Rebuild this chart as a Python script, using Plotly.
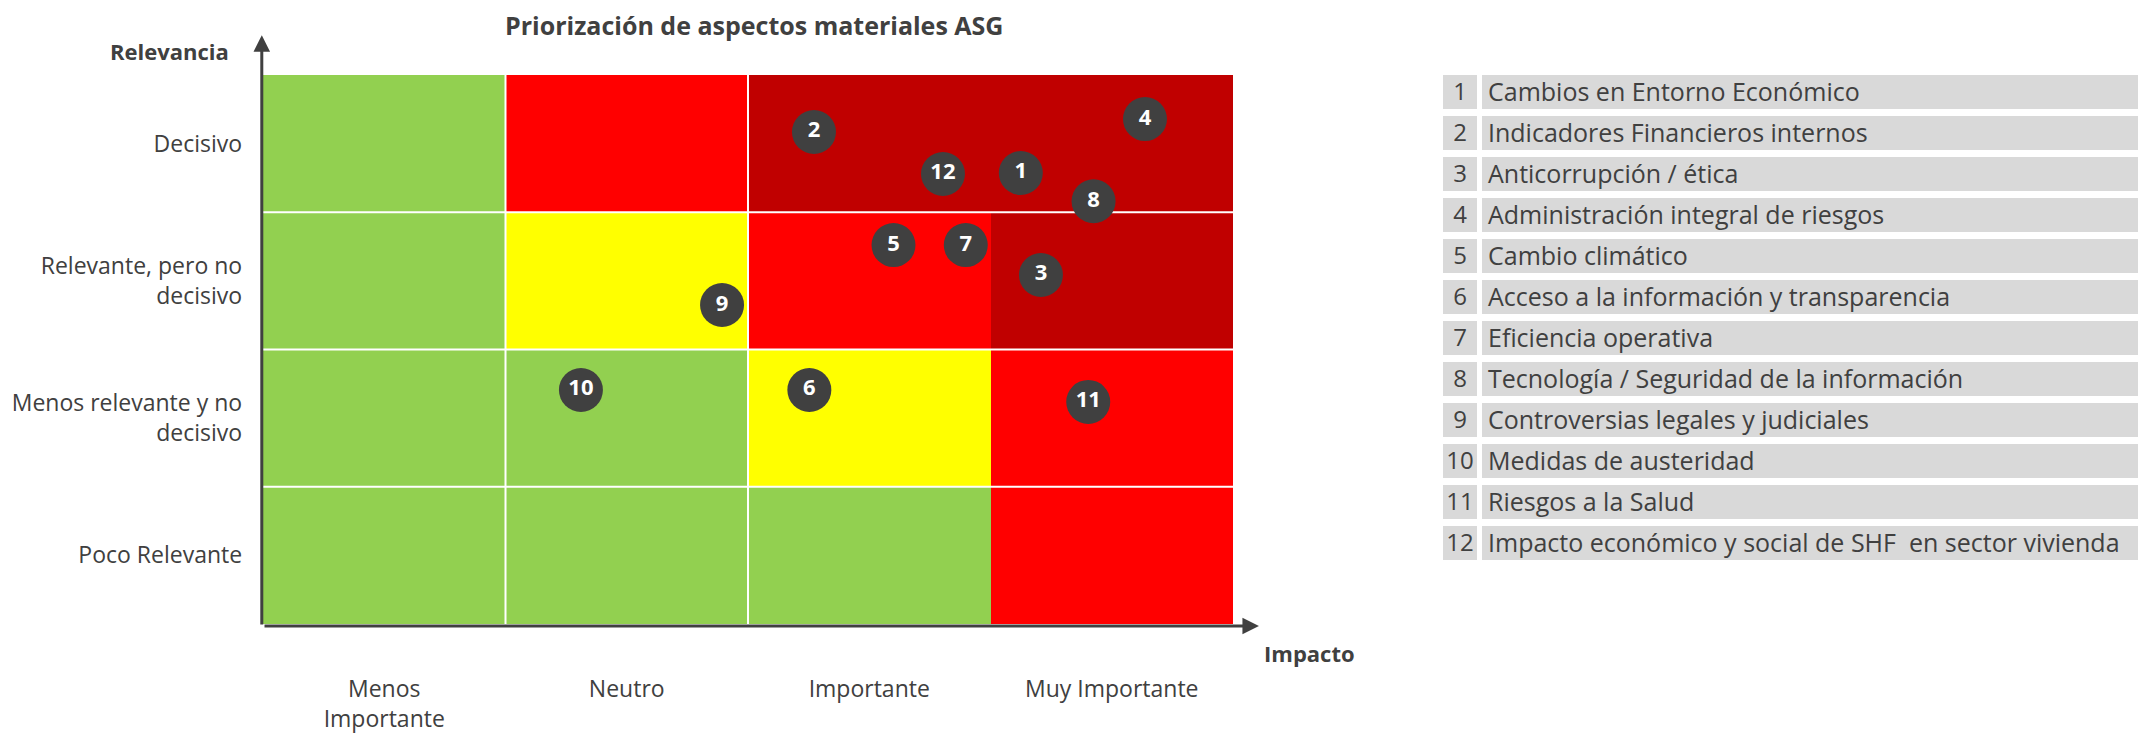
import plotly.graph_objects as go

# ---------------- data ----------------
impact_labels = ["Menos<br>Importante", "Neutro", "Importante", "Muy Importante"]
relevance_labels = ["Poco Relevante", "Menos relevante y no<br>decisivo",
                    "Relevante, pero no<br>decisivo", "Decisivo"]

# risk level of each cell, rows bottom -> top, columns left -> right
# 0 = green, 1 = yellow, 2 = red, 3 = dark red
cell_levels = [
    [0, 0, 0, 2],
    [0, 0, 1, 2],
    [0, 1, 2, 3],
    [0, 2, 3, 3],
]

aspect_ids = [1, 2, 3, 4, 5, 6, 7, 8, 9, 10, 11, 12]
aspect_names = [
    "Cambios en Entorno Económico",
    "Indicadores Financieros internos",
    "Anticorrupción / ética",
    "Administración integral de riesgos",
    "Cambio climático",
    "Acceso a la información y transparencia",
    "Eficiencia operativa",
    "Tecnología / Seguridad de la información",
    "Controversias legales y judiciales",
    "Medidas de austeridad",
    "Riesgos a la Salud",
    "Impacto económico y social de SHF\u00a0 en sector vivienda",
]
aspect_impact = [3.125, 2.272, 3.208, 3.637, 2.600, 2.253, 2.898, 3.425, 1.893, 1.311, 3.403, 2.804]
aspect_relevance = [3.286, 3.585, 2.543, 3.679, 2.761, 1.705, 2.761, 3.080, 2.324, 1.705, 1.618, 3.279]

# ---------------- style ----------------
SW, SH = 2146, 734          # screen size
OFF = 8                     # page body margin
FW, FH = SW - OFF, SH - OFF  # figure size


def px(xs):
    return (xs - OFF) / FW


def py(ys):
    return 1 - (ys - OFF) / FH


GREEN, YELLOW, RED, DARKRED = "#92D050", "#FFFF00", "#FF0000", "#C00000"
DARK = "#404040"
BOX = "#D9D9D9"
FONT = "Open Sans"

n_cols = len(impact_labels)
n_rows = len(relevance_labels)

# main plot screen geometry
PX_X0, PX_PER_X = 263.0, 242.5     # screen x of data x=0, pixels per unit
PX_Y0, PX_PER_Y = 624.0, 137.25    # screen y of data y=0, pixels per unit
X_RANGE = [-0.02, 4.2]
Y_RANGE = [-0.03, 4.35]
xdom = [px(PX_X0 + X_RANGE[0] * PX_PER_X), px(PX_X0 + X_RANGE[1] * PX_PER_X)]
ydom = [py(PX_Y0 - Y_RANGE[0] * PX_PER_Y), py(PX_Y0 - Y_RANGE[1] * PX_PER_Y)]

fig = go.Figure()

# cells
fig.add_trace(go.Heatmap(
    z=cell_levels,
    x=[i + 0.5 for i in range(n_cols)],
    y=[j + 0.5 for j in range(n_rows)],
    zmin=0, zmax=3,
    colorscale=[[0, GREEN], [1/6, GREEN], [1/6, YELLOW], [0.5, YELLOW],
                [0.5, RED], [5/6, RED], [5/6, DARKRED], [1, DARKRED]],
    showscale=False, hoverinfo="skip",
))

# white separators: all row boundaries, first two column boundaries
for j in range(1, n_rows):
    fig.add_trace(go.Scatter(x=[0, n_cols], y=[j, j], mode="lines",
                             line=dict(color="white", width=2),
                             hoverinfo="skip", showlegend=False))
for i in range(1, 3):
    fig.add_trace(go.Scatter(x=[i, i], y=[0, n_rows], mode="lines",
                             line=dict(color="white", width=2),
                             hoverinfo="skip", showlegend=False))

# bubbles
fig.add_trace(go.Scatter(
    x=aspect_impact, y=aspect_relevance, mode="markers+text",
    text=[str(i) for i in aspect_ids], textposition="middle center",
    textfont=dict(family=FONT, size=22, color="white", weight="bold"),
    marker=dict(size=44, color=DARK, line=dict(width=0)),
    hoverinfo="skip", showlegend=False, cliponaxis=False,
))

# axis arrows
fig.add_annotation(x=-0.005, y=4.29, ax=-0.005, ay=-0.015, xref="x", yref="y",
                   axref="x", ayref="y", showarrow=True, arrowhead=2,
                   arrowsize=1.1, arrowwidth=3, arrowcolor=DARK, text="")
fig.add_annotation(x=4.107, y=-0.015, ax=0.0, ay=-0.015, xref="x", yref="y",
                   axref="x", ayref="y", showarrow=True, arrowhead=2,
                   arrowsize=1.1, arrowwidth=3, arrowcolor=DARK, text="")

# ---------------- legend table (second axes) ----------------
TBL_X0 = 1443.0
NUM_W = 34
TEXT_X0 = 39
TBL_RANGE = SW - TBL_X0
ROW_TOP, ROW_PITCH, ROW_H = 75.0, 41.0, 34.0
TEXT_DY = 0.06   # small downward nudge of the row texts (rows units)
n_items = len(aspect_ids)
t_top = ROW_TOP + ROW_H / 2 - ROW_PITCH / 2
t_bot = t_top + n_items * ROW_PITCH
y2dom = [py(t_bot), py(t_top)]

fig.add_trace(go.Bar(y=aspect_ids, x=[NUM_W] * n_items, base=0, orientation="h",
                     width=ROW_H / ROW_PITCH, marker=dict(color=BOX, line=dict(width=0)),
                     xaxis="x2", yaxis="y2", hoverinfo="skip", showlegend=False))
fig.add_trace(go.Bar(y=aspect_ids, x=[TBL_RANGE + 50] * n_items, base=TEXT_X0, orientation="h",
                     width=ROW_H / ROW_PITCH, marker=dict(color=BOX, line=dict(width=0)),
                     xaxis="x2", yaxis="y2", hoverinfo="skip", showlegend=False))
fig.add_trace(go.Scatter(x=[NUM_W / 2] * n_items, y=[i + TEXT_DY for i in aspect_ids], mode="text",
                         text=[str(i) for i in aspect_ids], textposition="middle center",
                         textfont=dict(family=FONT, size=24, color=DARK),
                         xaxis="x2", yaxis="y2", hoverinfo="skip", showlegend=False))
fig.add_trace(go.Scatter(x=[TEXT_X0 + 6] * n_items, y=[i + TEXT_DY for i in aspect_ids], mode="text",
                         text=aspect_names, textposition="middle right",
                         textfont=dict(family=FONT, size=25, color=DARK),
                         xaxis="x2", yaxis="y2", hoverinfo="skip", showlegend=False,
                         cliponaxis=False))

# ---------------- texts ----------------
fig.add_annotation(text="<b>Priorización de aspectos materiales ASG</b>",
                   x=px(754), y=py(25), xref="paper", yref="paper",
                   showarrow=False, xanchor="center", yanchor="middle",
                   font=dict(family=FONT, size=25, color=DARK))
fig.add_annotation(text="<b>Relevancia</b>",
                   x=px(231), y=py(51), xref="paper", yref="paper",
                   showarrow=False, xanchor="right", yanchor="middle",
                   font=dict(family=FONT, size=22, color=DARK))
fig.add_annotation(text="<b>Impacto</b>",
                   x=px(1262), y=py(653), xref="paper", yref="paper",
                   showarrow=False, xanchor="left", yanchor="middle",
                   font=dict(family=FONT, size=22, color=DARK))

fig.update_layout(
    width=FW, height=FH, template="none",
    paper_bgcolor="white", plot_bgcolor="white",
    margin=dict(l=0, r=0, t=0, b=0),
    barmode="overlay", showlegend=False,
    font=dict(family=FONT, color=DARK),
    xaxis=dict(domain=xdom, range=X_RANGE, showgrid=False, zeroline=False, showline=False,
               tickvals=[i + 0.5 for i in range(n_cols)], ticktext=impact_labels,
               ticks="", ticklabelstandoff=45, automargin=False,
               tickfont=dict(family=FONT, size=23, color=DARK), fixedrange=True),
    yaxis=dict(domain=ydom, range=Y_RANGE, showgrid=False, zeroline=False, showline=False,
               tickvals=[j + 0.5 for j in range(n_rows)], ticktext=relevance_labels,
               ticks="", ticklabelstandoff=15, automargin=False,
               tickfont=dict(family=FONT, size=23, color=DARK), fixedrange=True),
    xaxis2=dict(domain=[px(TBL_X0), 1.0], range=[0, TBL_RANGE], anchor="y2",
                showgrid=False, zeroline=False, showline=False, showticklabels=False,
                automargin=False, fixedrange=True),
    yaxis2=dict(domain=y2dom, range=[n_items + 0.5, 0.5], anchor="x2",
                showgrid=False, zeroline=False, showline=False, showticklabels=False,
                automargin=False, fixedrange=True),
)

fig.write_html("out.html")
